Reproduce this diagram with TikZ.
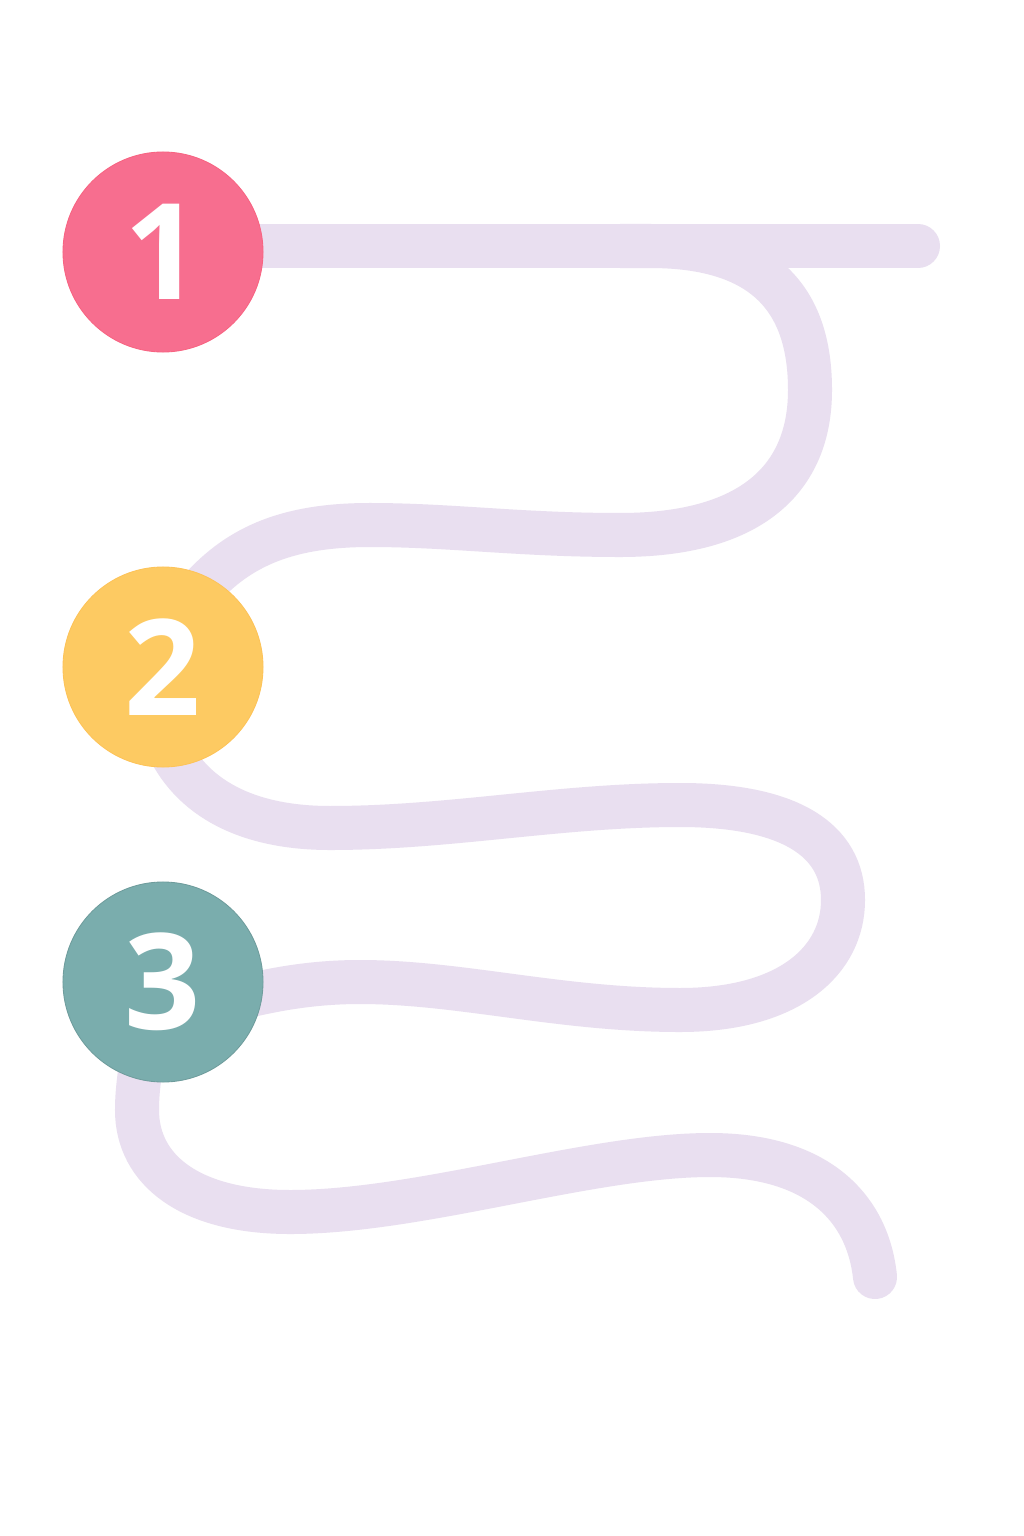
\documentclass[tikz,border=0pt]{standalone}
\usepackage{fontspec}
\setmainfont{Open Sans}
\definecolor{lav}{HTML}{E9DFF0}
\definecolor{pinkc}{HTML}{F76E8F}
\definecolor{yellowc}{HTML}{FDCA62}
\definecolor{tealc}{HTML}{7AADAD}
\tikzset{
  road/.style={draw=lav, line width=1.1cm, line cap=round},
  stepcircle/.style={circle, minimum size=5cm, inner sep=0pt, text=white,
    font=\fontsize{95}{95}\selectfont\bfseries, line width=0.6pt}
}
\begin{document}
\begin{tikzpicture}[x=0.025cm,y=-0.025cm]
\useasboundingbox (0,0) rectangle (1024,1536);
\fill[white] (0,0) rectangle (1024,1536);
% curve A
\draw[road, line cap=butt] (620,246) -- (650,246) .. controls (765,246) and (810,300) .. (810,390)
  .. controls (810,480) and (750,535) .. (620,535)
  .. controls (520,535) and (450,525) .. (370,525)
  .. controls (290,525) and (240,545) .. (200,590);
% curve B
\draw[road] (165,740) .. controls (190,800) and (250,828) .. (330,828)
  .. controls (450,828) and (560,805) .. (680,805)
  .. controls (790,805) and (843,840) .. (843,900)
  .. controls (843,960) and (790,1010) .. (680,1010)
  .. controls (560,1010) and (460,982) .. (360,982)
  .. controls (310,982) and (270,990) .. (230,1000);
% curve C
\draw[road] (145,1040) .. controls (140,1070) and (137,1090) .. (137,1110)
  .. controls (137,1170) and (190,1212) .. (290,1212)
  .. controls (420,1212) and (590,1155) .. (710,1155)
  .. controls (820,1155) and (868,1210) .. (875,1277);
% top line
\coordinate (lineend) at (918,246);
\draw[road] (200,246) -- (lineend);
% circles
\node[stepcircle, fill=pinkc, draw=pinkc!90!red] (c1) at (163,252) {1};
\node[stepcircle, fill=yellowc, draw=yellowc!90!orange] (c2) at (163,667) {2};
\node[stepcircle, fill=tealc, draw=tealc!90!black] (c3) at (163,982) {3};
\end{tikzpicture}
\end{document}
